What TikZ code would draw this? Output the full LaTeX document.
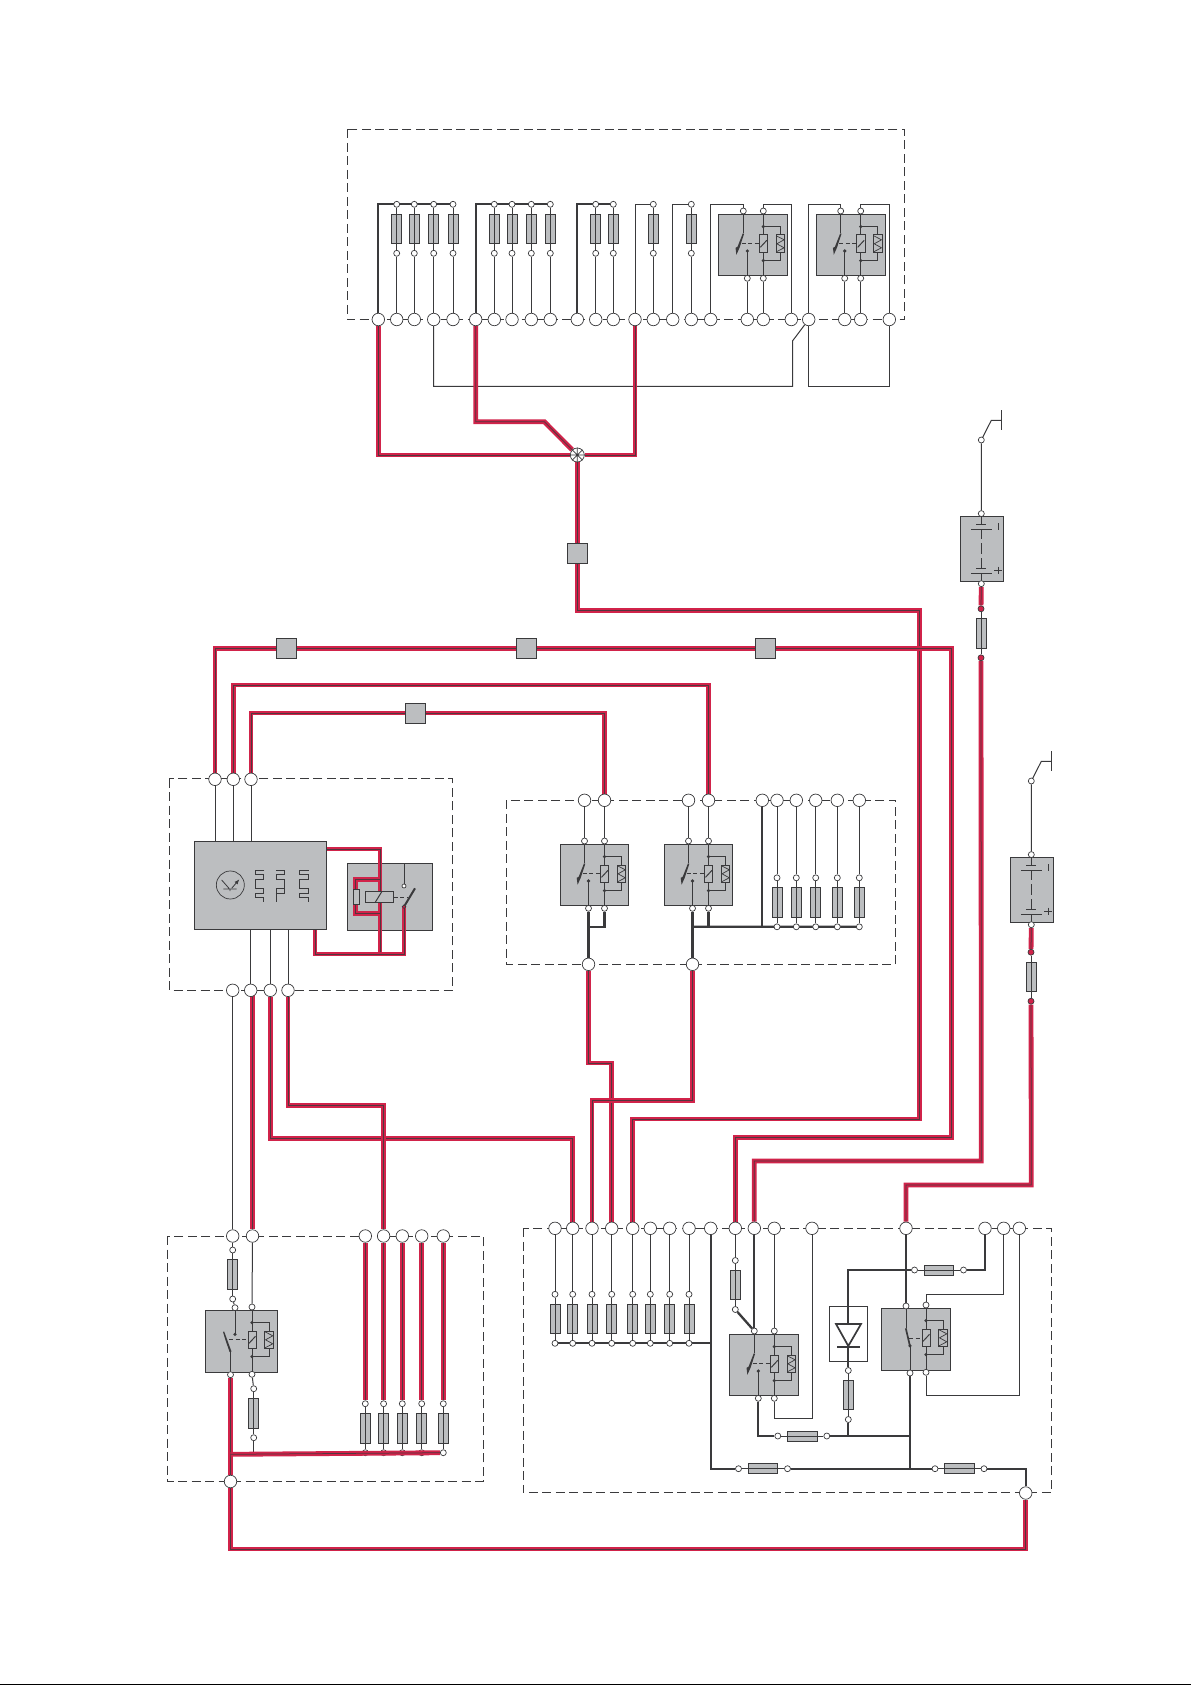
\documentclass[tikz,border=0pt]{standalone}
\usetikzlibrary{arrows.meta}
\definecolor{redw}{HTML}{D1234A}
\definecolor{darkw}{HTML}{3A3A3C}
\definecolor{boxg}{HTML}{BCBEC0}
\pgfdeclarelayer{paper}
\pgfdeclarelayer{wires}
\pgfsetlayers{paper,wires,main}
\tikzset{
  line cap=butt,
  term/.style={circle,draw=darkw,line width=.7pt,fill=white,minimum size=12.5pt,inner sep=0pt},
  smallt/.style={circle,draw=darkw,line width=.7pt,fill=white,minimum size=6pt,inner sep=0pt},
  dotn/.style={circle,fill=darkw,minimum size=3.6pt,inner sep=0pt},
  fusebox/.style={rectangle,draw=darkw,line width=.9pt,fill=boxg,inner sep=0pt},
  relaybox/.style={rectangle,draw=darkw,line width=.9pt,fill=boxg,inner sep=0pt,anchor=north west},
  thinw/.style={draw=darkw,line width=1pt},
  medw/.style={draw=darkw,line width=1.7pt},
  thickw/.style={draw=darkw,line width=2.3pt},
  redwire/.style={draw=redw,line width=2.05pt,double=darkw!85!redw,double distance=.75pt},
  modbox/.style={draw=darkw,line width=.8pt,dash pattern=on 9pt off 4.5pt},
}
\newcommand\FuseV[4][]{%
  \node[fusebox,minimum width=10pt,minimum height=29.5pt] (#2) at (#3,#4) {};
  \node[smallt,#1] (#2-a) at (#3,#4-24.5) {};
  \node[smallt,#1] (#2-b) at (#3,#4+24.5) {};
  \draw[thinw] (#2-a) -- (#2-b);}
\newcommand\FuseH[3]{%
  \node[fusebox,minimum width=29.5pt,minimum height=10pt] (#1) at (#2,#3) {};
  \node[smallt] (#1-a) at (#2-24.5,#3) {};
  \node[smallt] (#1-b) at (#2+24.5,#3) {};
  \draw[thinw] (#1-a) -- (#1-b);}
\newcommand\Blade{\fill[darkw] (24.5,19)--(25.8,19.5)--(21.2,33.5)--(18.1,40.5)--(17.2,33.5)--(19.2,32.5)--cycle;}
\newcommand\RelayCore[1]{%
  \draw[thinw] (45,0)--(45,20.7) (45,38.3)--(45,61)
    (45,12.3)--(62,12.3)--(62,20.7) (62,38.3)--(62,46.3)--(45,46.3);
  \draw[thinw,fill=boxg] (41,20.7) rectangle (49.3,38.3);
  \draw[thinw] (42,33)--(48.5,26);
  \draw[thinw,fill=boxg] (57.7,20.7) rectangle (66.3,38.3);
  \draw[draw=darkw,line width=.7pt] (58,21.5)--(65.8,25.5)--(58.5,29.5)--(65.8,33.5)--(58,37.5);
  \node[dotn] at (45,12.3) {};
  \node[dotn] at (45,46.3) {};
  \node[smallt] (#1-b) at (45,-3.3) {};
  \node[smallt] (#1-d) at (45,64) {};}
\newcommand\RelayStd[3]{%
  \node[relaybox,minimum width=68.8pt,minimum height=61pt] (#1) at (#2,#3) {};
  \begin{scope}[shift={(#2,#3)}]
    \RelayCore{#1}
    \draw[thinw] (25,0)--(25,19) (29,36.7)--(29,61);
    \draw[thinw,dash pattern=on 4pt off 2.5pt] (23.3,29)--(41,29);
    \Blade
    \node[dotn] at (29,36.7) {};
    \node[smallt] (#1-a) at (25,-3.3) {};
    \node[smallt] (#1-c) at (29,64) {};
  \end{scope}}
\newcommand\Battery[3]{%
  \node[relaybox,minimum width=43pt,minimum height=64.4pt] (#1) at (#2-21,#3) {};
  \begin{scope}[shift={(#2,#3)}]
    \draw[thinw] (-5,8)--(5,8) (-10.3,13)--(10.3,13) (-5,52)--(5,52) (-10.3,57)--(10.3,57)
      (0,0)--(0,8) (0,13)--(0,23) (0,27)--(0,38) (0,42)--(0,52) (0,57)--(0,64.4)
      (17,7)--(17,14) (13,54)--(20.4,54) (16.7,50.3)--(16.7,57.7);
    \node[smallt] (#1-a) at (0,-2.7) {};
    \node[smallt] (#1-b) at (0,67.4) {};
    \node[smallt] (#1-s) at (0,-76.3) {};
    \coordinate (#1-k) at (10,-96);
    \coordinate (#1-m) at (20,-96);
    \draw[thinw] (20,-106.3)--(20,-86.3);
  \end{scope}
  \draw[thinw] (#1-s)--(#1-k)--(#1-m) (#1-s)--(#1-a);}
\begin{document}
\begin{tikzpicture}[x=1pt,y=-1pt]
\useasboundingbox (0,0) rectangle (1191,1685);
\begin{pgfonlayer}{paper}
  \fill[white] (0,0) rectangle (1191,1685);
  \fill[black] (0,1684) rectangle (1191,1685);
\end{pgfonlayer}

% ===== terminals =====
\foreach \n/\x in {1/378.3,2/396.7,3/414.3,4/433.7,5/453,6/475.7,7/494.3,8/512,9/531.3,10/550.3,11/577.3,12/595.7,13/613.3,14/635,15/653.3,16/672.7,17/691.3,18/710.7,19/747.3,20/763.3,21/791.3,22/808.7,23/844.7,24/860.7,25/889.3}
  {\node[term] (T\n) at (\x,319.5) {};}
\foreach \n/\x in {1/215,2/233.3,3/251}
  {\node[term] (Mt\n) at (\x,779.3) {};}
\foreach \n/\x in {1/232.7,2/250.7,3/270.3,4/288}
  {\node[term] (Mb\n) at (\x,990.3) {};}
\foreach \n/\x in {1/584.5,2/604.5,3/688.5,4/708.5,5/762.3,6/777,7/796.3,8/815.7,9/837.3,10/859.3}
  {\node[term] (Rt\n) at (\x,800.3) {};}
\node[term] (Rb1) at (588.5,964.3) {};
\node[term] (Rb2) at (692.5,964.3) {};
\foreach \n/\x in {1/232.7,2/252.5,3/365.3,4/383.6,5/402.3,6/421.7,7/443.3}
  {\node[term] (Lt\n) at (\x,1236) {};}
\node[term] (Lb) at (230.5,1481.5) {};
\foreach \n/\x in {1/555,2/572.7,3/592,4/611.7,5/632.7,6/650.3,7/669.7,8/689,9/710.7,10/735.3,11/754.3,12/774.3,13/812,14/906,15/985,16/1003.7,17/1019.3}
  {\node[term] (Bk\n) at (\x,1228.3) {};}
\node[term] (Brt) at (1025.7,1493) {};

% ===== fuses =====
\foreach \n/\x in {1/396.7,2/414.3,3/433.7,4/453,5/494.3,6/512,7/531.3,8/550.3,9/595.7,10/613.3,11/653.3,12/691.3}
  {\FuseV{tf\n}{\x}{228.8}}
\foreach \n/\x in {6/777,7/796.3,8/815.7,9/837.3,10/859.3}
  {\FuseV{mf\n}{\x}{902.3}}
\foreach \n/\x in {3/365.3,4/383.6,5/402.3,6/421.7,7/443.3}
  {\FuseV{lf\n}{\x}{1428.2}}
\FuseV{lfA}{232.7}{1274.5}
\FuseV{lfB}{253.7}{1413.2}
\foreach \n/\x in {1/555,2/572.7,3/592,4/611.7,5/632.7,6/650.3,7/669.7,8/689}
  {\FuseV{bf\n}{\x}{1318.8}}
\FuseV{bfC}{735.3}{1285}
\FuseV{bfD}{848.3}{1395}
\FuseH{hfA}{763}{1468.7}
\FuseH{hfB}{959.5}{1468.7}
\FuseH{hfC}{802.3}{1436}
\FuseH{hfD}{939}{1270}

% ===== relays =====
\RelayStd{rA}{718.3}{214.3}
\RelayStd{rB}{815.7}{214.3}
\RelayStd{rE}{559.5}{844.3}
\RelayStd{rF}{663.5}{844.3}
\RelayStd{rC}{729.3}{1334.3}
% relay with the switch drawn the other way round
\node[relaybox,minimum width=69pt,minimum height=62pt] (rD) at (881,1308.3) {};
\begin{scope}[shift={(881,1308.3)}]
  \RelayCore{rD}
  \draw[thinw] (25,0)--(25,20) (29,38)--(29,62);
  \draw[thinw,dash pattern=on 4pt off 2.5pt] (28,30)--(41,30);
  \draw[darkw,line width=1.7pt] (24.8,20)--(29,38);
  \node[dotn] at (29,37.5) {};
  \node[smallt] (rD-a) at (25,-2.3) {};
  \node[smallt] (rD-c) at (29,64.7) {};
\end{scope}
% relay of the lower left module
\node[relaybox,minimum width=71.4pt,minimum height=61.4pt] (rL) at (205.3,1310.3) {};
\begin{scope}[shift={(207,1310.3)}]
  \RelayCore{rL}
  \draw[thinw] (28,0)--(28,24) (23.5,41.3)--(23.5,61.4);
  \draw[thinw,dash pattern=on 4pt off 2.5pt] (22,29.5)--(41,29.5);
  \fill[darkw] (16,21.5)--(17.2,21.2)--(24.5,41.3)--(22.6,41.8)--(18.2,29)--cycle;
  \node[dotn] at (28,24) {};
  \node[smallt] (rL-a) at (28,-2.6) {};
  \node[smallt] (rL-c) at (23.5,64.4) {};
\end{scope}

% ===== batteries =====
\Battery{batA}{981.3}{516.3}
\Battery{batB}{1031.3}{857.3}
\FuseV[fill=redw]{bfA}{981}{633.3}
\FuseV[fill=redw]{bfB}{1031}{976.7}

% ===== hub and splice squares =====
\node[circle,draw=darkw,line width=.7pt,fill=white,minimum size=14pt,inner sep=0pt] (hub) at (577.3,455) {};
\draw[thinw,line width=.7pt] (hub.north)--(hub.south) (hub.west)--(hub.east) (hub.north west)--(hub.south east) (hub.north east)--(hub.south west);
\foreach \n/\x/\y in {A/577.3/553.7,B/286/648.4,C/526/648.4,D/765/648.4,E/415/713}
  {\node[rectangle,draw=darkw,line width=.8pt,fill=boxg,minimum size=20pt,inner sep=0pt] (sq\n) at (\x,\y) {};}

% ===== control unit and its relay =====
\node[relaybox,minimum width=132pt,minimum height=88pt] (mBlock) at (194.3,841.3) {};
\node[relaybox,minimum width=85pt,minimum height=67pt] (mRel) at (347.3,863.3) {};
\begin{scope}[shift={(205,855)},x=.3333pt,y=-.3333pt]
  \draw[draw=darkw,line width=.7pt] (76,90) circle[radius=14pt];
  \draw[thinw,line width=.8pt] (55,102)--(95,102) (75,102)--(75,108) (50,75)--(72,100);
  \draw[thinw,line width=.8pt,-{Latex[length=5pt,width=4pt]}] (80,100)--(103,73);
  \draw[thinw,line width=.8pt] (178,46)--(150,46)--(150,58)--(176,58)--(176,72)--(150,72)--(150,100)--(176,100)--(176,114)--(150,114)--(150,128)--(176,128)--(176,142);
  \draw[thinw,line width=.8pt] (213,46)--(238,46)--(238,58)--(213,58)--(213,72)--(238,72)--(238,100)--(213,100)--(213,142) (213,114)--(238,114)--(238,100);
  \draw[thinw,line width=.8pt] (311,46)--(284,46)--(284,58)--(310,58)--(310,72)--(284,72)--(284,100)--(310,100)--(310,114)--(284,114)--(284,128)--(310,128)--(310,142);
\end{scope}
\draw[redwire] (mBlock.east |- 0,849)--(380,849)--(380,954);
\draw[redwire] (380,879.3)--(355.7,879.3)--(355.7,913.3)--(380,913.3);
\draw[redwire] (315,930)--(315,954)--(404,954)--(404,906.7);
\draw[thinw,fill=boxg] (353.3,889.3) rectangle (359.3,904.3);
\node[rectangle,draw=darkw,line width=.9pt,fill=boxg,minimum width=28pt,minimum height=11.4pt,inner sep=0pt] (mCoil) at (379.3,897) {};
\draw[thinw] (375,902.7)--(382,891.3);
\draw[thinw,dash pattern=on 4pt off 2.5pt] (mCoil.east)--(408,897);
\draw[darkw,line width=2pt] (415,888.3)--(404,906.7);
\node[smallt,minimum size=4pt] (mS) at (404,886) {};
\node[smallt,minimum size=3.6pt,fill=redw] at (404,906.7) {};
\draw[thinw] (mRel.north -| mS)--(mS);

% ===== diode =====
\node[rectangle,draw=darkw,line width=.9pt,minimum width=38.4pt,minimum height=55pt,inner sep=0pt] (dBox) at (848.5,1333.8) {};
\draw[darkw,line width=1.7pt,fill=white] (836,1324)--(861,1324)--(848.3,1346)--cycle;
\draw[darkw,line width=1.7pt] (837.3,1346.7)--(860,1346.7);
\node[dotn] at (906,1270) {};

% ===== wires (behind the nodes) =====
\begin{pgfonlayer}{wires}
  \draw[modbox] (347,129.5) rectangle (904.7,319.5);
  \draw[modbox] (169.3,778.7) rectangle (452.7,990.3);
  \draw[modbox] (506.3,800.3) rectangle (895.7,964.3);
  \draw[modbox] (167,1236) rectangle (483.3,1481.3);
  \draw[modbox] (523.3,1228.3) rectangle (1051.3,1492.7);

  % top module
  \draw[thickw] (T1) |- (tf4-a);
  \draw[thickw] (T6) |- (tf8-a);
  \draw[thickw] (T11) |- (tf10-a);
  \draw[thinw] (T14) |- (tf11-a);
  \draw[thinw] (T16) |- (tf12-a);
  \foreach \t/\f in {2/1,3/2,4/3,5/4,7/5,8/6,9/7,10/8,12/9,13/10,15/11,17/12}
    {\draw[thinw] (T\t) -- (tf\f-b);}
  \draw[thinw] (T18) -- (710.7,204.3) -- (743.3,204.3) -- (rA-a);
  \draw[thinw] (rA-b) -- (763.3,204.3) -- (791.3,204.3) -- (T21);
  \draw[thinw] (T22) -- (808.7,204.3) -- (840.7,204.3) -- (rB-a);
  \draw[thinw] (rB-b) -- (860.7,204.3) -- (889.3,204.3) -- (T25);
  \draw[thinw] (rA-c) -- (T19);
  \draw[thinw] (rA-d) -- (T20);
  \draw[thinw] (rB-c) -- (T23);
  \draw[thinw] (rB-d) -- (T24);
  \draw[thinw] (T4) -- (433.7,386.3) -- (792.7,386.3) -- (792.7,340.7) -- (T22);
  \draw[thinw] (T22) -- (808.7,386.3) -- (889.3,386.3) -- (T25);

  % red from the top module
  \draw[redwire] (T1) -- (378.3,455) -- (hub);
  \draw[redwire] (T6) -- (475.7,421.7) -- (544.3,421.7) -- (hub);
  \draw[redwire] (T14) -- (635,455) -- (hub);
  \draw[redwire] (hub) -- (sqA);
  \draw[redwire] (sqA) -- (577.3,610.6) -- (919.4,610.6) -- (919.4,1119) -- (632.7,1119) -- (Bk5);

  % control unit
  \foreach \n in {1,2,3} {\draw[thinw] (Mt\n) -- (Mt\n |- mBlock.north);}
  \foreach \n in {2,3,4} {\draw[thinw] (Mb\n) -- (Mb\n |- mBlock.south);}
  \draw[thinw] (Mb1) -- (Lt1);
  \draw[redwire] (Mt1) -- (215,648.4) -- (sqB);
  \draw[redwire] (sqB) -- (sqC);
  \draw[redwire] (sqC) -- (sqD);
  \draw[redwire] (sqD) -- (951.4,648.4) -- (951.4,1137.4) -- (735.3,1137.4) -- (Bk10);
  \draw[redwire] (Mt2) -- (233.3,685) -- (708.5,685) -- (Rt4);
  \draw[redwire] (Mt3) -- (251,713) -- (sqE);
  \draw[redwire] (sqE) -- (604.5,713) -- (Rt2);
  \draw[redwire] (Lt2) -- (Lt2 |- Mb2);
  \draw[redwire] (Mb3) -- (270.3,1138.4) -- (572.7,1138.4) -- (Bk2);
  \draw[redwire] (Mb4) -- (288,1105.5) -- (383.6,1105.5) -- (Lt4);

  % middle module
  \draw[thinw] (Rt1) -- (rE-a);
  \draw[thinw] (Rt2) -- (rE-b);
  \draw[thinw] (Rt3) -- (rF-a);
  \draw[thinw] (Rt4) -- (rF-b);
  \draw[thickw] (rE-c) -- (Rb1);
  \draw[thickw] (rE-d) -- (604.5,926.7) -- (588.5,926.7);
  \draw[thickw] (rF-c) -- (Rb2);
  \draw[thickw] (rF-d) -- (708.5,926.7);
  \draw[thickw] (692.5,926.7) -- (mf10-b);
  \draw[thickw] (Rt5) -- (762.3,926.7);
  \foreach \n in {6,7,8,9,10} {\draw[thinw] (Rt\n) -- (mf\n-a);}
  \draw[redwire] (Rb1) -- (588.5,1063) -- (611.7,1063) -- (Bk4);
  \draw[redwire] (Rb2) -- (692.5,1100.8) -- (592,1100.8) -- (Bk3);

  % batteries
  \draw[redwire] (batA-b) -- (bfA-a);
  \draw[redwire] (bfA-b) -- (981.3,1161) -- (754.3,1161) -- (Bk11);
  \draw[redwire] (batB-b) -- (bfB-a);
  \draw[redwire] (bfB-b) -- (1031.3,1185) -- (906,1185) -- (Bk14);

  % lower left module
  \draw[thinw] (Lt1) -- (lfA-a);
  \draw[thinw] (lfA-b) -- (rL-a);
  \draw[thinw] (Lt2) -- (rL-b);
  \draw[thinw] (rL-d) -- (lfB-a);
  \draw[thinw] (lfB-b) -- (253.7,1454.3);
  \foreach \n in {3,4,5,6,7} {\draw[redwire] (Lt\n) -- (lf\n-a);}
  \draw[redwire] (rL-c) -- (Lb);
  \draw[redwire] (Lb) -- (230.5,1549) -- (1025.7,1549) -- (Brt);

  % lower right module
  \foreach \n in {1,2,3,4,5,6,7,8} {\draw[thinw] (Bk\n) -- (bf\n-a);}
  \draw[thickw] (bf1-b) -- (bf8-b);
  \draw[medw] (bf8-b) -- (710.7,1343.3);
  \draw[thickw] (Bk9) -- (710.7,1468.7) -- (hfA-a);
  \draw[thickw] (hfA-b) -- (hfB-a);
  \draw[thickw] (hfB-b) -- (1025.7,1468.7) -- (Brt);
  \draw[thinw] (Bk10) -- (bfC-a);
  \draw[thickw] (bfC-b) -- (rC-a);
  \draw[thickw] (Bk11) -- (rC-a);
  \draw[thinw] (Bk12) -- (rC-b);
  \draw[thinw] (rC-d) -- (774.3,1418.7) -- (812,1418.7) -- (Bk13);
  \draw[thickw] (rC-c) -- (758.3,1436) -- (hfC-a);
  \draw[thickw] (hfC-b) -- (910,1436);
  \draw[thickw] (rD-c) -- (910,1468.7);
  \draw[thickw] (bfD-b) -- (848.3,1436);
  \draw[thickw] (bfD-a) -- (848.3,1270) -- (hfD-a);
  \draw[thickw] (Bk15) |- (hfD-b);
  \draw[medw] (Bk14) -- (rD-a);
  \draw[thinw] (rD-b) -- (926,1294.3) -- (1003.7,1294.3) -- (Bk16);
  \draw[thinw] (rD-d) -- (926,1395.3) -- (1019.3,1395.3) -- (Bk17);
\end{pgfonlayer}

% the red bus runs over the foot of four fuses
\draw[redwire] (230.5,1454.3) -- (lf7-b);
\end{tikzpicture}
\end{document}
